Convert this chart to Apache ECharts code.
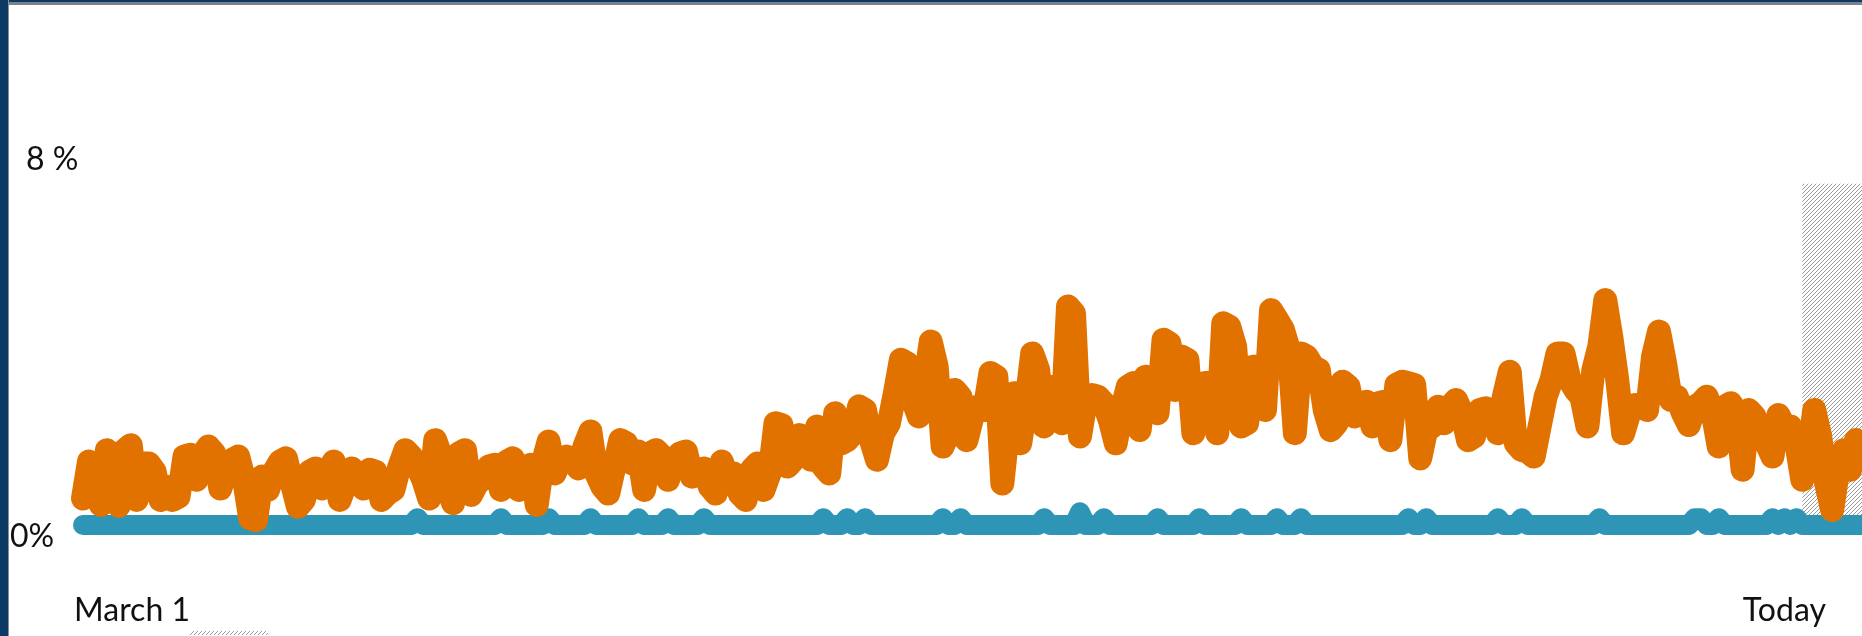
<!DOCTYPE html>
<html><head><meta charset="utf-8">
<script src="https://cdn.jsdelivr.net/npm/echarts@6/dist/echarts.min.js"></script>
<style>
html,body{margin:0;padding:0;background:#fff;overflow:hidden;}
#chart{position:absolute;left:0;top:0;width:1862px;height:636px;}
#bl{position:absolute;left:0;top:0;width:8px;height:636px;background:#0b3a64;border-right:1px solid #8a8f96;}
#bt{position:absolute;left:0;top:0;width:1862px;height:2px;background:#0b3a64;border-bottom:3px solid #7d8288;}
</style></head><body>
<div id="chart"></div><div id="bt"></div><div id="bl"></div>
<script>
// Share (%) of one category, daily, orange
const orangeSeries = [
0.58,1.39,1.28,0.44,1.64,1.50,0.42,1.64,1.75,0.55,
1.35,1.35,1.17,0.55,0.84,0.55,0.62,1.50,1.54,0.99,
1.54,1.72,1.57,0.80,1.21,1.43,1.50,0.99,0.15,0.11,
1.06,0.77,1.17,1.39,1.46,0.91,0.40,0.55,1.17,1.24,
0.80,1.17,1.39,0.55,0.91,1.24,1.10,0.80,1.21,1.17,
0.55,
0.69,0.77,1.28,1.64,1.50,1.28,0.99,0.58,1.86,1.50,
0.84,0.48,1.57,1.64,0.66,0.91,1.02,1.28,1.32,0.77,
1.39,1.46,0.77,0.84,1.32,0.44,1.35,1.83,1.13,1.43,
1.50,1.43,1.24,1.72,2.05,1.13,0.84,0.69,1.28,1.86,
1.79,1.35,1.61,0.77,1.57,1.64,1.50,0.99,1.43,1.57,
1.61,1.06,1.13,1.24,0.84,0.69,1.39,1.06,1.13,0.69,
0.55,1.21,1.35,0.77,1.13,2.23,2.19,1.28,1.43,1.97,
1.72,1.43,2.16,1.28,1.13,2.45,1.79,1.86,2.01,2.60,
2.52,1.86,1.43,2.01,2.23,2.89,3.62,3.55,2.74,2.38,
3.11,4.02,3.47,1.72,2.01,2.96,2.81,1.86,2.38,2.60,
2.52,3.33,3.25,0.91,2.16,2.89,1.79,2.67,3.76,3.40,
2.16,3.03,2.96,2.23,4.79,4.64,1.94,2.74,2.85,2.81,
2.67,2.30,1.79,2.52,3.03,3.11,2.08,3.25,3.18,2.45,
4.06,3.98,2.96,3.69,3.62,2.01,2.67,3.11,3.11,2.01,
4.42,4.35,3.91,2.16,2.23,3.47,3.47,2.52,4.71,4.50,
4.28,3.84,2.01,3.76,3.69,3.47,3.40,2.52,2.08,2.23,
3.14,3.03,2.38,2.52,2.70,2.16,2.67,2.70,1.86,3.07,
3.14,3.11,3.07,1.46,2.08,2.16,2.59,2.23,2.59,2.74,
2.45,1.86,1.94,2.52,2.56,2.45,2.01,2.81,3.36,1.79,
1.64,1.61,1.50,2.16,2.81,3.18,3.76,3.76,3.18,2.96,
2.81,2.16,3.40,3.91,4.93,4.13,3.18,2.01,2.45,2.63,
2.59,2.52,3.69,4.24,3.55,2.74,2.81,2.45,2.19,2.59,
2.67,2.81,2.45,1.72,2.59,2.67,2.45,1.21,2.52,2.38,
1.94,1.79,1.50,2.41,2.16,2.16,1.79,0.99,1.50,2.52,
1.94,0.91,0.33,1.21,1.64,1.21,1.86,1.80
];
// Share (%) of the other category, daily, blue
const blueSeries = [
0,0,0,0,0,0,0,0,0,0,0,0,0,0,0,0,0,0,0,0,
0,0,0,0,0,0,0,0,0,0,0,0,0,0,0,0,0,0,0,0,
0,0,0,0,0,0,0,0,0,0,0,0,0,0,0,0,.15,0,0,0,
0,0,0,0,0,0,0,0,0,0,.15,0,0,0,0,0,0,0,.15,0,
0,0,0,0,0,.15,0,0,0,0,0,0,0,.15,0,0,0,0,.15,0,
0,0,0,0,.15,0,0,0,0,0,0,0,0,0,0,0,0,0,0,0,
0,0,0,0,.15,0,0,0,.15,0,0,.15,0,0,0,0,0,0,0,0,
0,0,0,0,.15,0,0,.15,0,0,0,0,0,0,0,0,0,0,0,0,
0,.15,0,0,0,0,0,.28,0,0,0,.15,0,0,0,0,0,0,0,0,
.15,0,0,0,0,0,0,.15,0,0,0,0,0,0,.15,0,0,0,0,0,
.15,0,0,0,.15,0,0,0,0,0,0,0,0,0,0,0,0,0,0,0,
0,0,.15,0,0,.15,0,0,0,0,0,0,0,0,0,0,0,.15,0,0,
0,.15,0,0,0,0,0,0,0,0,0,0,0,0,.15,0,0,0,0,0,
0,0,0,0,0,0,0,0,0,0,.15,.15,0,0,.15,0,0,0,0,0,
0,0,0,.15,0,.15,0,.15,0,0,0,0,0,0,0,0,0,0,0
];
const dayIndex = orangeSeries.map((_, i) => i);
const yTickLabels = { 0: '0%', 8: '8 %' };
const xTickLabels = { 0: 'March 1', 285: 'Today' };
const forecastFrom = 288;
const forecastTo = 298;
const forecastTop = 7.48;

function hatch() {
  const s = 4;
  const c = document.createElement('canvas'); c.width = s; c.height = s;
  const g = c.getContext('2d');
  g.fillStyle = '#ffffff'; g.fillRect(0, 0, s, s);
  g.strokeStyle = '#9a9a9a'; g.lineWidth = 1;
  g.beginPath();
  g.moveTo(0, s); g.lineTo(s, 0);
  g.moveTo(-s, s); g.lineTo(s, -s);
  g.moveTo(0, 2 * s); g.lineTo(2 * s, 0);
  g.stroke();
  return c;
}
const FONT = 'Lato';
const chart = echarts.init(document.getElementById('chart'), null, { renderer: 'canvas' });
chart.setOption({
  animation: false,
  backgroundColor: '#ffffff',
  grid: { left: 83, right: 0, top: 160, bottom: 111, containLabel: false, outerBoundsMode: 'none' },
  xAxis: {
    type: 'category', data: dayIndex, boundaryGap: false,
    axisLine: { show: false }, axisTick: { show: false }, splitLine: { show: false },
    axisLabel: {
      interval: 0, margin: 70, color: '#111', fontFamily: FONT, fontSize: 32,
      formatter: (v, i) => {
        const t = xTickLabels[i];
        if (!t) return '';
        return i === 0 ? '{m|' + t + '}' : '{t|' + t + '}';
      },
      rich: {
        m: { fontFamily: FONT, fontSize: 32, color: '#111', padding: [0, 0, 0, 98] },
        t: { fontFamily: FONT, fontSize: 32, color: '#111' }
      }
    }
  },
  yAxis: {
    type: 'value', min: 0, max: 8, interval: 8,
    axisLine: { show: false }, axisTick: { show: false }, splitLine: { show: false },
    axisLabel: {
      align: 'left', margin: 73, color: '#111', fontFamily: FONT, fontSize: 32,
      formatter: v => (v === 8 ? '{a|' + yTickLabels[8] + '}' : '{b|' + yTickLabels[0] + '}'),
      rich: {
        a: { fontFamily: FONT, fontSize: 32, color: '#111', padding: [0, 0, 0, 16] },
        b: { fontFamily: FONT, fontSize: 32, color: '#111', padding: [24, 0, 0, 0] }
      }
    }
  },
  series: [
    {
      type: 'line', data: [], z: 1, silent: true,
      markArea: {
        silent: true,
        itemStyle: { color: { image: hatch(), repeat: 'repeat' } },
        data: [[{ xAxis: forecastFrom, yAxis: 0 }, { xAxis: forecastTo, yAxis: forecastTop }]]
      }
    },
    {
      type: 'line', data: blueSeries, z: 2, symbol: 'none', clip: false,
      lineStyle: { color: '#2f95b7', width: 20, cap: 'round', join: 'round' }
    },
    {
      type: 'line', data: orangeSeries, z: 3, symbol: 'none', clip: false,
      lineStyle: { color: '#e27200', width: 24, cap: 'round', join: 'round' }
    }
  ],
  graphic: [{
    type: 'rect', left: 190, top: 631, shape: { width: 78, height: 4 },
    style: { fill: { image: hatch(), repeat: 'repeat' } }, silent: true
  }]
});
</script>
</body></html>
